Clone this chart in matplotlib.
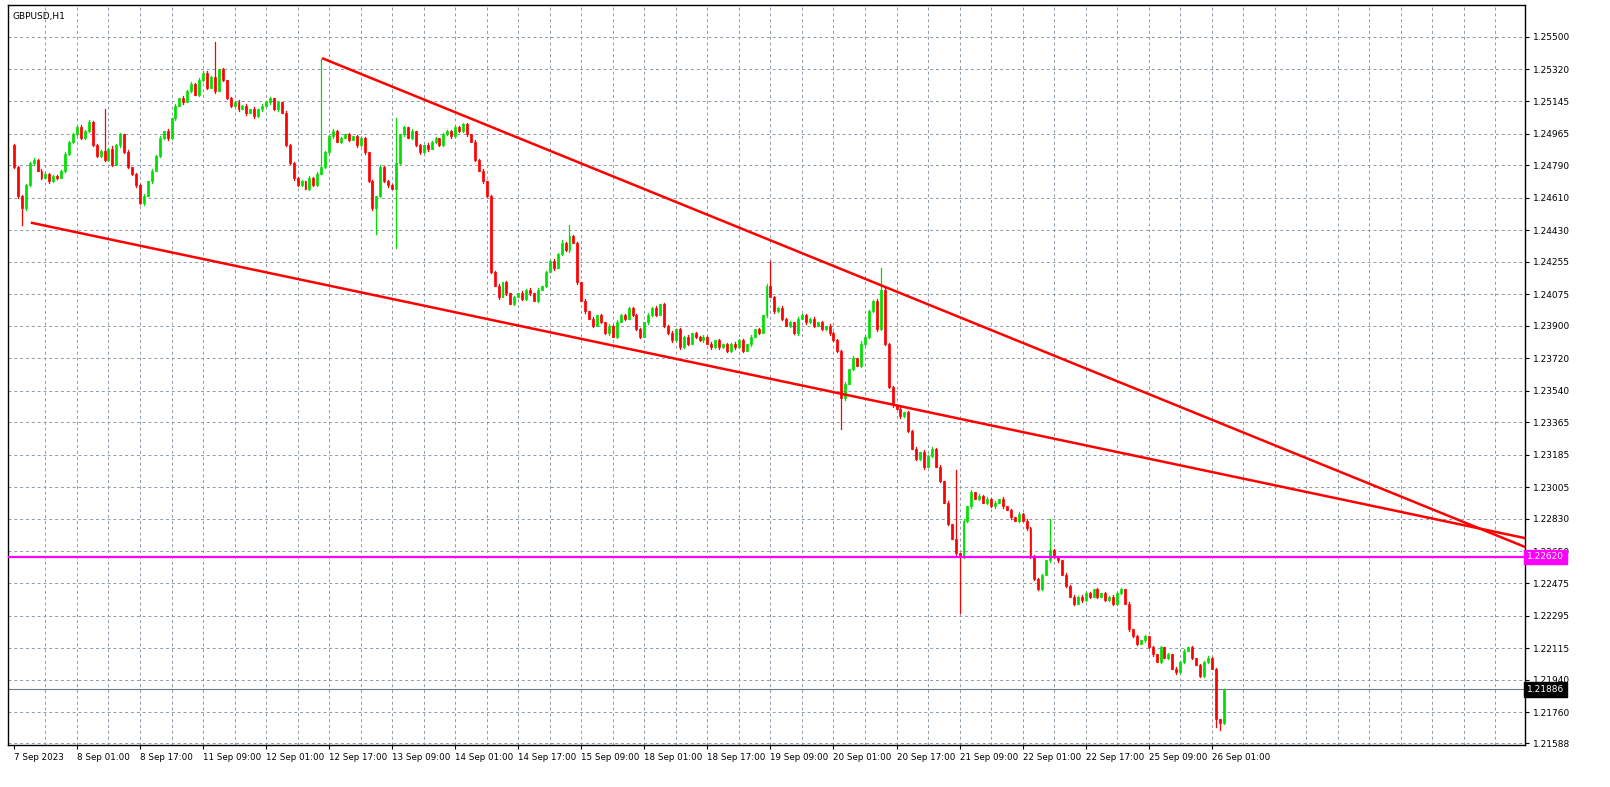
import matplotlib
matplotlib.use("Agg")
import matplotlib.pyplot as plt
from matplotlib.patches import Rectangle

closes = [
1.2478,1.2462,1.2455,1.2468,1.2480,1.2482,1.2476,1.2472,1.2474,1.2470,1.2473,1.2472,1.2476,1.2485,1.2492,1.2496,
1.2500,1.2494,1.2498,1.2503,1.2490,1.2484,1.2487,1.2482,1.2488,1.2479,1.2490,1.2496,1.2486,1.2478,1.2474,1.2468,
1.2458,1.2462,1.2470,1.2476,1.2484,1.2494,1.2498,1.2494,1.2505,1.2512,1.2516,1.2514,1.2520,1.2524,1.2518,1.2526,
1.2530,1.2522,1.2528,1.2520,1.2532,1.2526,1.2516,1.2512,1.2514,1.2510,1.2512,1.2508,1.2510,1.2506,1.2510,1.2512,
1.2514,1.2516,1.2510,1.2514,1.2508,1.2490,1.2480,1.2472,1.2468,1.2470,1.2466,1.2472,1.2468,1.2474,1.2478,1.2486,
1.2495,1.2498,1.2492,1.2494,1.2496,1.2493,1.2495,1.2490,1.2494,1.2486,1.2470,1.2455,1.2462,1.2478,1.2470,1.2468,
1.2466,1.2480,1.2496,1.2500,1.2494,1.2498,1.2490,1.2486,1.2490,1.2488,1.2492,1.2494,1.2490,1.2496,1.2498,1.2495,
1.2500,1.2498,1.2502,1.2496,1.2492,1.2482,1.2476,1.2470,1.2462,1.2420,1.2412,1.2406,1.2414,1.2408,1.2402,1.2406,
1.2408,1.2405,1.2410,1.2408,1.2404,1.2410,1.2412,1.2420,1.2426,1.2422,1.2430,1.2436,1.2432,1.2440,1.2436,1.2414,
1.2404,1.2398,1.2394,1.2390,1.2396,1.2392,1.2386,1.2390,1.2384,1.2392,1.2396,1.2394,1.2400,1.2396,1.2388,1.2384,
1.2392,1.2396,1.2400,1.2396,1.2402,1.2390,1.2386,1.2382,1.2388,1.2378,1.2384,1.2380,1.2386,1.2384,1.2382,1.2384,
1.2380,1.2378,1.2382,1.2378,1.2380,1.2376,1.2380,1.2378,1.2382,1.2376,1.2380,1.2384,1.2388,1.2386,1.2396,1.2412,
1.2406,1.2398,1.2400,1.2394,1.2390,1.2392,1.2386,1.2394,1.2396,1.2392,1.2394,1.2390,1.2392,1.2388,1.2390,1.2386,
1.2382,1.2376,1.2350,1.2358,1.2366,1.2372,1.2368,1.2380,1.2384,1.2398,1.2404,1.2388,1.2410,1.2380,1.2356,1.2346,
1.2344,1.2340,1.2342,1.2332,1.2322,1.2316,1.2320,1.2312,1.2318,1.2322,1.2312,1.2304,1.2292,1.2280,1.2272,1.2264,
1.2262,1.2282,1.2290,1.2298,1.2294,1.2296,1.2292,1.2294,1.2290,1.2292,1.2294,1.2290,1.2288,1.2284,1.2282,1.2286,
1.2282,1.2278,1.2262,1.2250,1.2244,1.2252,1.2260,1.2266,1.2262,1.2260,1.2252,1.2246,1.2240,1.2236,1.2240,1.2238,
1.2242,1.2240,1.2244,1.2240,1.2242,1.2238,1.2240,1.2236,1.2242,1.2244,1.2236,1.2222,1.2218,1.2214,1.2216,1.2218,
1.2212,1.2208,1.2204,1.2212,1.2206,1.2208,1.2200,1.2198,1.2204,1.2210,1.2212,1.2206,1.2202,1.2196,1.2204,1.2206,
1.2200,1.2172,1.2170,1.2188]
first_open = 1.2490

# wick sizes (hand-read, approximate), one digit per bar, in units of 1.5e-5
wick_up_str = ("3525472635241736" "4826351739462815" "2637481526374859" "6937251426351827"
               "3624183524364926" "3625172435261624" "2735161427351624" "3524262514372625"
               "2736251426392514" "2536142637251426" "2635142736251425" "3625142635172516"
               "2536142635172516" "2635172935361524" "2536142735162514" "2536142635172516"
               "2736142635172516" "2536142736162514" "2635142736251426" "2335")
wick_dn_str = ("4736251426351624" "2536142635172536" "3625142635172526" "2536142635172516"
               "2635142735162514" "2536142635172536" "2635142736251426" "2536142735162514"
               "2635172536142625" "2536142635172516" "2635142736251425" "2536142635172516"
               "2635142736251426" "2536142635172536" "2635142736251426" "2536142635172516"
               "2635142736251426" "2536142635172516" "2635142736251426" "2644")
spike_high = {51: 1.2547, 78: 1.2538, 14: 1.2490, 23: 1.2510, 97: 1.2505, 141: 1.2446,
              192: 1.2426, 220: 1.2422, 239: 1.2310, 263: 1.2283}
spike_low = {2: 1.2446, 92: 1.2441, 97: 1.2433, 210: 1.2333, 240: 1.2231, 305: 1.2168, 306: 1.2166}

yticks = [1.25500,1.25320,1.25145,1.24965,1.24790,1.24610,1.24430,1.24255,1.24075,1.23900,
          1.23720,1.23540,1.23365,1.23185,1.23005,1.22830,1.22650,1.22475,1.22295,1.22115,
          1.21940,1.21760,1.21588]
xlabels = ["7 Sep 2023","8 Sep 01:00","8 Sep 17:00","11 Sep 09:00","12 Sep 01:00","12 Sep 17:00",
           "13 Sep 09:00","14 Sep 01:00","14 Sep 17:00","15 Sep 09:00","18 Sep 01:00","18 Sep 17:00",
           "19 Sep 09:00","20 Sep 01:00","20 Sep 17:00","21 Sep 09:00","22 Sep 01:00","22 Sep 17:00",
           "25 Sep 09:00","26 Sep 01:00"]
trend1 = ([78.5, 383.5], [1.2538, 1.22675])
trend2 = ([4.6, 383.5], [1.2447, 1.22724])
level_magenta = 1.22620
level_bid = 1.21886

W, H = 1610, 787
fig = plt.figure(figsize=(W/100, H/100), dpi=100)
ax = fig.add_axes([8/W, 42/H, (1525-8)/W, (745-5)/H])
n = len(closes)
ax.set_xlim(-1.5, 383.5)
ax.set_ylim(1.21578, 1.25677)

for i in range(n):
    o = first_open if i == 0 else closes[i-1]
    c = closes[i]
    hi = max(o, c) + int(wick_up_str[i]) * 1.5e-5
    lo = min(o, c) - int(wick_dn_str[i]) * 1.5e-5
    hi = max(hi, spike_high.get(i, hi))
    lo = min(lo, spike_low.get(i, lo))
    col = "#00e000" if c >= o else "#ff0000"
    ax.plot([i, i], [lo, hi], color=col, lw=0.9, zorder=3)
    b = max(abs(c - o), 2e-5)
    ax.add_patch(Rectangle((i - 0.25, min(o, c)), 0.5, b, facecolor=col, edgecolor=col, lw=0.5, zorder=4))

ax.plot(*trend1, color="#ff0000", lw=1.8, zorder=5)
ax.plot(*trend2, color="#ff0000", lw=1.8, zorder=5)
ax.axhline(level_magenta, color="#ff00ff", lw=1.6, zorder=5)
ax.axhline(level_bid, color="#6e7b8b", lw=0.8, zorder=2)

ax.set_yticks(yticks)
ax.set_yticklabels([f"{v:.5f}" for v in yticks], fontsize=6.5)
ax.yaxis.tick_right()
ax.tick_params(axis="y", length=3, pad=3)
xt = list(range(0, 320, 16))
ax.set_xticks(xt)
ax.set_xticklabels(xlabels, fontsize=6.3, ha="left")
ax.tick_params(axis="x", length=3, pad=3)
for v in yticks:
    ax.axhline(v, color="#8c9aa8", lw=0.7, ls=(0, (3, 3)), zorder=1)
for xv in range(8, 384, 8):
    ax.axvline(xv, color="#8c9aa8", lw=0.7, ls=(0, (3, 3)), zorder=1)
for s in ax.spines.values():
    s.set_color("black"); s.set_linewidth(1)

ax.text(0.003, 0.99, "GBPUSD,H1", transform=ax.transAxes, fontsize=6.5, va="top", ha="left")
fig.canvas.draw()
for lv, fc in [(level_magenta, "#ff00ff"), (level_bid, "black")]:
    _, ypix = ax.transData.transform((0, lv))
    fig.text(1527/W, ypix/H, f"{lv:.5f}", fontsize=6.5, color="white", va="center", ha="left",
             bbox=dict(boxstyle="square,pad=0.3", fc=fc, ec=fc), zorder=10)

fig.savefig("out.png", dpi=100, facecolor="white")
